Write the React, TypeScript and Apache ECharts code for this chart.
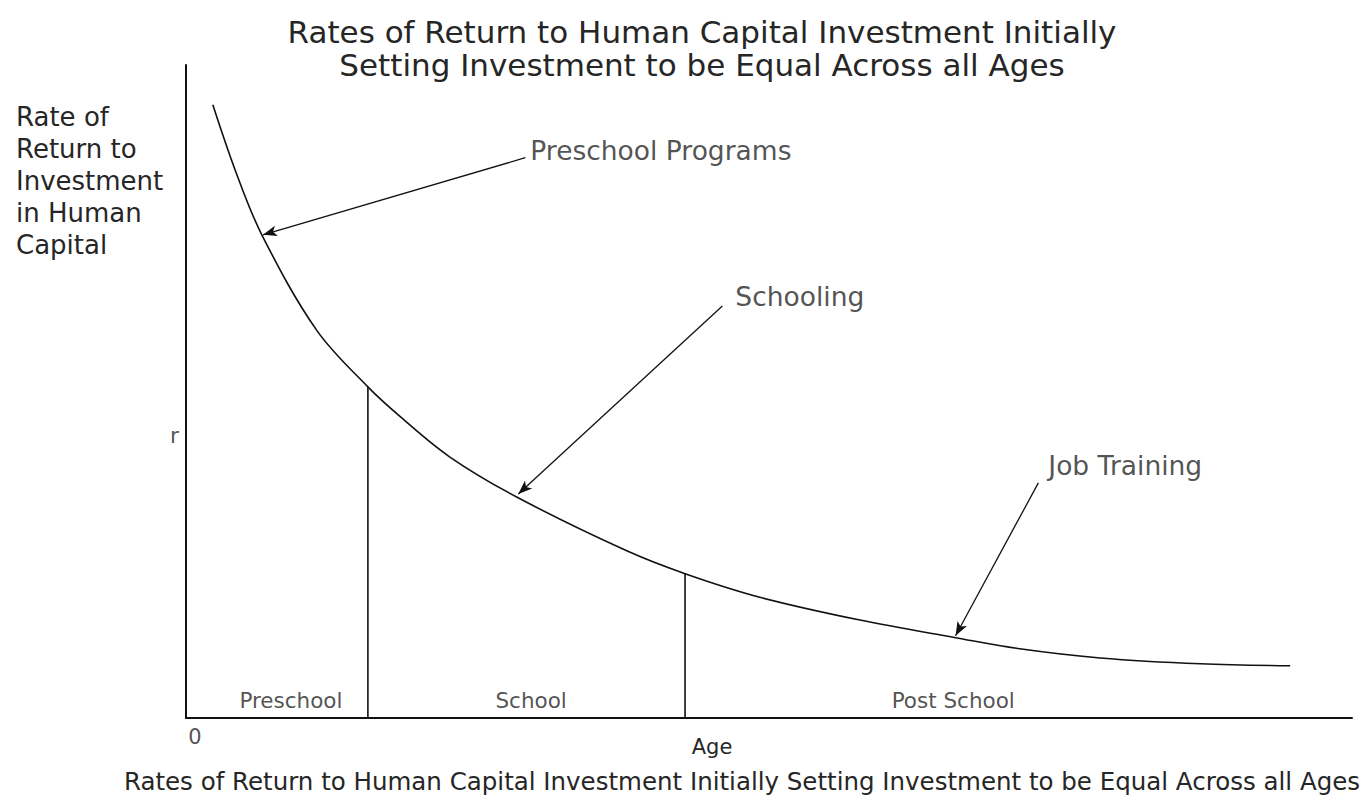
import React, { useEffect, useRef } from "react";
import * as echarts from "echarts";

// Curve: rate of return by age (arbitrary units)
const ages = [2.3, 4.3, 6.5, 11.2, 15.6, 18.4, 22.6, 28.4, 37.8, 42.8, 49.2, 57.8, 66.0, 71.5, 78.4, 87.0, 94.7];
const rates = [93.9, 83.5, 74.0, 59.4, 50.7, 46.1, 40.0, 33.8, 25.6, 22.1, 18.5, 15.0, 12.3, 10.6, 9.2, 8.3, 8.0];

// Phase boundaries (index into ages/rates)
const boundaryIndex = [4, 9];

// Region labels along the age axis
const regionNames = ["Preschool", "School", "Post School"];
const regionAges = [9.0, 29.6, 65.8];
const regionLabelLevel = 2.7;

// Marked rate level "r"
const rLevel = 43.2;

// Annotations with arrows (from text anchor to curve)
const annotationNames = ["Preschool Programs", "Schooling", "Job Training"];
const arrowFrom = [
  [29.1, 85.8],
  [46.0, 63.1],
  [73.1, 36.0],
];
const arrowTo = [
  [6.6, 74.0],
  [28.5, 34.3],
  [66.0, 12.6],
];

const titleLines = [
  "Rates of Return to Human Capital Investment Initially",
  "Setting Investment to be Equal Across all Ages",
];
const yTitleLines = ["Rate of", "Return to", "Investment", "in Human", "Capital"];
const xTitle = "Age";
const caption =
  "Rates of Return to Human Capital Investment Initially Setting Investment to be Equal Across all Ages";

const FONT = '"DejaVu Sans", "Noto Sans", sans-serif';
const TEXT = "#262626";
// label placement relative to each arrow's start (layout only)
const annotationLabelOffsets = [
  [5, -7],
  [13, -9],
  [10, -17],
];

export default function App() {
  const ref = useRef<HTMLDivElement>(null);

  useEffect(() => {
    document.body.style.margin = "0";
    if (!ref.current) return;
    const chart = echarts.init(ref.current, undefined, { renderer: "svg" });

    const curve = ages.map((a, i) => [a, rates[i]]);
    const boundarySeries = boundaryIndex.map((idx) => ({
      type: "line",
      data: [
        [ages[idx], 0],
        [ages[idx], rates[idx]],
      ],
      symbol: "none",
      silent: true,
      lineStyle: { color: "#111", width: 1.6 },
    }));

    const option: any = {
      animation: false,
      backgroundColor: "#ffffff",
      grid: { left: 186, top: 65, right: 18, bottom: 85 },
      xAxis: {
        type: "value",
        min: 0,
        max: 100,
        axisLine: { show: true, onZero: false, lineStyle: { color: "#111", width: 2 } },
        axisTick: { show: false },
        axisLabel: { show: false },
        splitLine: { show: false },
      },
      yAxis: {
        type: "value",
        min: 0,
        max: 100,
        axisLine: { show: true, onZero: false, lineStyle: { color: "#111", width: 2 } },
        axisTick: { show: false },
        axisLabel: { show: false },
        splitLine: { show: false },
      },
      series: [
        {
          type: "line",
          data: curve,
          smooth: 0.35,
          symbol: "none",
          silent: true,
          lineStyle: { color: "#111", width: 1.6 },
        },
        ...boundarySeries,
        {
          type: "scatter",
          symbolSize: 0,
          silent: true,
          data: regionNames.map((n, i) => ({ name: n, value: [regionAges[i], regionLabelLevel] })),
          label: {
            show: true,
            position: "inside",
            formatter: "{b}",
            fontFamily: FONT,
            fontSize: 21.5,
            color: TEXT,
          },
        },
        {
          type: "scatter",
          symbolSize: 0,
          silent: true,
          data: [{ name: "r", value: [0, rLevel] }],
          label: {
            show: true,
            position: "left",
            distance: 7,
            formatter: "{b}",
            fontFamily: FONT,
            fontSize: 22,
            color: TEXT,
          },
        },
        {
          type: "scatter",
          symbolSize: 0,
          silent: true,
          data: [{ name: "0", value: [0, 0] }],
          label: {
            show: true,
            position: "bottom",
            distance: 8,
            offset: [9, 0],
            formatter: "{b}",
            fontFamily: FONT,
            fontSize: 21,
            color: TEXT,
          },
        },
        {
          type: "scatter",
          symbolSize: 0,
          silent: true,
          data: annotationNames.map((n, i) => ({
            name: n,
            value: arrowFrom[i],
            label: { offset: annotationLabelOffsets[i] },
          })),
          label: {
            show: true,
            position: "right",
            distance: 0,
            formatter: "{b}",
            fontFamily: FONT,
            fontSize: 26.5,
            color: TEXT,
          },
          markLine: {
            silent: true,
            symbol: ["none", "arrow"],
            symbolSize: [8, 14],
            label: { show: false },
            lineStyle: { color: "#111", width: 1.3, type: "solid" },
            data: annotationNames.map((_, i) => [{ coord: arrowFrom[i] }, { coord: arrowTo[i] }]),
          },
        },
      ],
      graphic: [
        {
          type: "text",
          style: {
            text: titleLines.join("\n"),
            x: 702,
            y: 15,
            textAlign: "center",
            textVerticalAlign: "top",
            fontFamily: FONT,
            fontSize: 31,
            lineHeight: 33,
            fill: TEXT,
          },
        },
        {
          type: "text",
          style: {
            text: yTitleLines.join("\n"),
            x: 16,
            y: 101,
            textAlign: "left",
            textVerticalAlign: "top",
            fontFamily: FONT,
            fontSize: 26,
            lineHeight: 32,
            fill: TEXT,
          },
        },
        {
          type: "text",
          style: {
            text: xTitle,
            x: 712,
            y: 747,
            textAlign: "center",
            textVerticalAlign: "middle",
            fontFamily: FONT,
            fontSize: 21,
            fill: TEXT,
          },
        },
        {
          type: "text",
          style: {
            text: caption,
            x: 742,
            y: 781,
            textAlign: "center",
            textVerticalAlign: "middle",
            fontFamily: FONT,
            fontSize: 24.5,
            fill: TEXT,
          },
        },
      ],
    };

    chart.setOption(option);
    return () => chart.dispose();
  }, []);

  return <div ref={ref} style={{ width: 1370, height: 803 }} />;
}
